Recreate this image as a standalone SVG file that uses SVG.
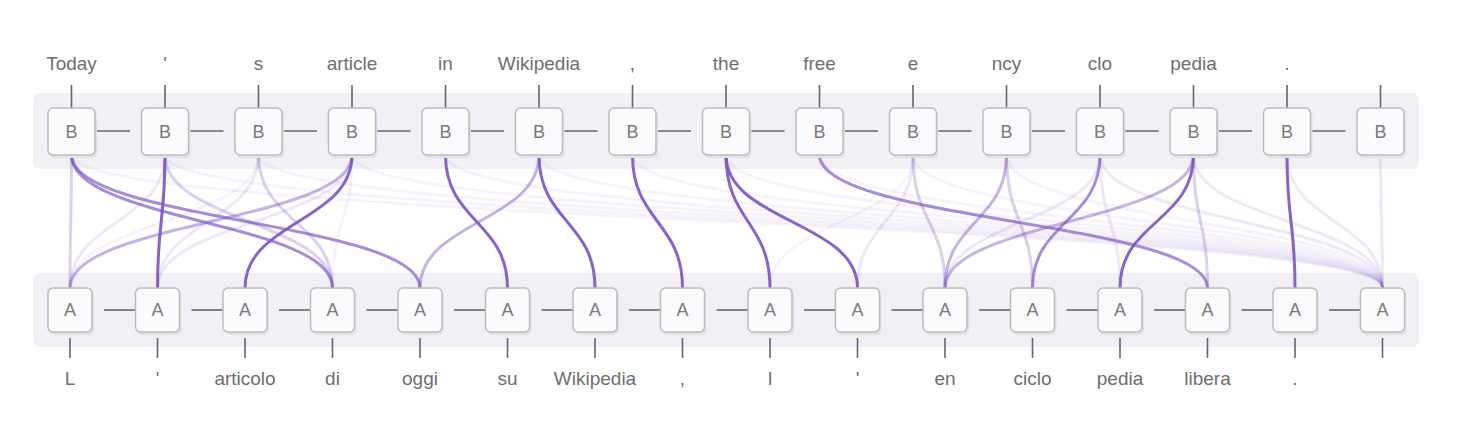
<svg xmlns="http://www.w3.org/2000/svg" width="1462" height="445" viewBox="0 0 1462 445">
<defs>
<style>
.band{fill:#f1f0f5}
.box{fill:#fbfbfd;stroke:#bcbcbc;stroke-width:1.5}
.shadow{fill:#e2e1e6}
.lt{font-family:"Liberation Sans",Arial,sans-serif;font-size:19px;fill:#6e6e6e;text-anchor:middle}
.bt{font-family:"Liberation Sans",Arial,sans-serif;font-size:18px;fill:#7a7a7a;text-anchor:middle;dominant-baseline:central}
.tick{stroke:#666;stroke-width:1.6}
.hl{stroke:#666;stroke-width:1.6}
.c{fill:none;stroke:#7e57c2;stroke-width:3;stroke-linecap:round}
.s1{stroke-opacity:0.92}
.s2{stroke-opacity:0.68}
.s3{stroke-opacity:0.45}
.s4{stroke-opacity:0.28}
.s5{stroke-opacity:0.13}
.s6{stroke-opacity:0.07}
</style>
</defs>
<rect width="1462" height="445" fill="#ffffff"/>
<rect class="band" x="33" y="93" width="1386" height="76" rx="7"/>
<rect class="band" x="33" y="273" width="1386" height="74" rx="7"/>

<g id="connectors">
<line class="hl" x1="95" y1="131" x2="130" y2="131"/>
<line class="hl" x1="188.5" y1="131" x2="223.5" y2="131"/>
<line class="hl" x1="282" y1="131" x2="317" y2="131"/>
<line class="hl" x1="375.5" y1="131" x2="410.5" y2="131"/>
<line class="hl" x1="469" y1="131" x2="504" y2="131"/>
<line class="hl" x1="562.5" y1="131" x2="597.5" y2="131"/>
<line class="hl" x1="656" y1="131" x2="691" y2="131"/>
<line class="hl" x1="749.5" y1="131" x2="784.5" y2="131"/>
<line class="hl" x1="843" y1="131" x2="878" y2="131"/>
<line class="hl" x1="936.5" y1="131" x2="971.5" y2="131"/>
<line class="hl" x1="1030" y1="131" x2="1065" y2="131"/>
<line class="hl" x1="1123.5" y1="131" x2="1158.5" y2="131"/>
<line class="hl" x1="1217" y1="131" x2="1252" y2="131"/>
<line class="hl" x1="1310.5" y1="131" x2="1345.5" y2="131"/>
<line class="hl" x1="104" y1="310" x2="135.5" y2="310"/>
<line class="hl" x1="191.5" y1="310" x2="223" y2="310"/>
<line class="hl" x1="279" y1="310" x2="310.5" y2="310"/>
<line class="hl" x1="366.5" y1="310" x2="398" y2="310"/>
<line class="hl" x1="454" y1="310" x2="485.5" y2="310"/>
<line class="hl" x1="541.5" y1="310" x2="573" y2="310"/>
<line class="hl" x1="629" y1="310" x2="660.5" y2="310"/>
<line class="hl" x1="716.5" y1="310" x2="748" y2="310"/>
<line class="hl" x1="804" y1="310" x2="835.5" y2="310"/>
<line class="hl" x1="891.5" y1="310" x2="923" y2="310"/>
<line class="hl" x1="979" y1="310" x2="1010.5" y2="310"/>
<line class="hl" x1="1066.5" y1="310" x2="1098" y2="310"/>
<line class="hl" x1="1154" y1="310" x2="1185.5" y2="310"/>
<line class="hl" x1="1241.5" y1="310" x2="1273" y2="310"/>
<line class="hl" x1="1329" y1="310" x2="1360.5" y2="310"/>

<path class="c s6" d="M71.5,155 C71.5,221.5 1382.5,221.5 1382.5,288"/>
<path class="c s6" d="M165,155 C165,221.5 1382.5,221.5 1382.5,288"/>
<path class="c s6" d="M258.5,155 C258.5,221.5 1382.5,221.5 1382.5,288"/>
<path class="c s6" d="M352,155 C352,221.5 1382.5,221.5 1382.5,288"/>
<path class="c s6" d="M445.5,155 C445.5,221.5 1382.5,221.5 1382.5,288"/>
<path class="c s6" d="M539,155 C539,221.5 1382.5,221.5 1382.5,288"/>
<path class="c s6" d="M632.5,155 C632.5,221.5 1382.5,221.5 1382.5,288"/>
<path class="c s6" d="M726,155 C726,221.5 1382.5,221.5 1382.5,288"/>
<path class="c s6" d="M819.5,155 C819.5,221.5 1382.5,221.5 1382.5,288"/>
<path class="c s6" d="M913,155 C913,221.5 1382.5,221.5 1382.5,288"/>
<path class="c s6" d="M1006.5,155 C1006.5,221.5 1382.5,221.5 1382.5,288"/>
<path class="c s5" d="M1100,155 C1100,221.5 1382.5,221.5 1382.5,288"/>
<path class="c s5" d="M1193.5,155 C1193.5,221.5 1382.5,221.5 1382.5,288"/>
<path class="c s5" d="M1287,155 C1287,221.5 1382.5,221.5 1382.5,288"/>
<path class="c s5" d="M1380.5,155 C1380.5,221.5 1382.5,221.5 1382.5,288"/>

<path class="c s5" d="M165,155 C165,221.5 70,221.5 70,288"/>
<path class="c s6" d="M258.5,155 C258.5,221.5 70,221.5 70,288"/>
<path class="c s5" d="M258.5,155 C258.5,221.5 157.5,221.5 157.5,288"/>
<path class="c s5" d="M352,155 C352,221.5 157.5,221.5 157.5,288"/>
<path class="c s6" d="M352,155 C352,221.5 332.5,221.5 332.5,288"/>
<path class="c s5" d="M913,155 C913,221.5 857.5,221.5 857.5,288"/>
<path class="c s6" d="M913,155 C913,221.5 770,221.5 770,288"/>
<path class="c s5" d="M1100,155 C1100,221.5 1120,221.5 1120,288"/>
<path class="c s5" d="M1100,155 C1100,221.5 945,221.5 945,288"/>

<path class="c s4" d="M71.5,155 C71.5,221.5 70,221.5 70,288"/>
<path class="c s4" d="M165,155 C165,221.5 332.5,221.5 332.5,288"/>
<path class="c s4" d="M258.5,155 C258.5,221.5 332.5,221.5 332.5,288"/>
<path class="c s3" d="M352,155 C352,221.5 70,221.5 70,288"/>
<path class="c s3" d="M539,155 C539,221.5 420,221.5 420,288"/>
<path class="c s4" d="M913,155 C913,221.5 945,221.5 945,288"/>
<path class="c s3" d="M1006.5,155 C1006.5,221.5 945,221.5 945,288"/>
<path class="c s4" d="M1006.5,155 C1006.5,221.5 1032.5,221.5 1032.5,288"/>
<path class="c s3" d="M1193.5,155 C1193.5,221.5 945,221.5 945,288"/>
<path class="c s4" d="M1193.5,155 C1193.5,221.5 1207.5,221.5 1207.5,288"/>
<path class="c s2" d="M71.5,155 C71.5,221.5 332.5,221.5 332.5,288"/>
<path class="c s2" d="M71.5,155 C71.5,221.5 420,221.5 420,288"/>
<path class="c s2" d="M819.5,155 C819.5,221.5 1207.5,221.5 1207.5,288"/>
<path class="c s2" d="M1100,155 C1100,221.5 1032.5,221.5 1032.5,288"/>

<path class="c s1" d="M165,155 C165,221.5 157.5,221.5 157.5,288"/>
<path class="c s1" d="M352,155 C352,221.5 245,221.5 245,288"/>
<path class="c s1" d="M445.5,155 C445.5,221.5 507.5,221.5 507.5,288"/>
<path class="c s1" d="M539,155 C539,221.5 595,221.5 595,288"/>
<path class="c s1" d="M632.5,155 C632.5,221.5 682.5,221.5 682.5,288"/>
<path class="c s1" d="M726,155 C726,221.5 770,221.5 770,288"/>
<path class="c s1" d="M726,155 C726,221.5 857.5,221.5 857.5,288"/>
<path class="c s1" d="M1193.5,155 C1193.5,221.5 1120,221.5 1120,288"/>
<path class="c s1" d="M1287,155 C1287,221.5 1295,221.5 1295,288"/>
</g>

<g id="B0"><line class="tick" x1="71.5" y1="85" x2="71.5" y2="108"/><text class="lt" x="71.5" y="70">Today</text><rect class="shadow" x="50" y="111" width="47" height="47" rx="5"/><rect class="box" x="48" y="108" width="47" height="47" rx="5"/><text class="bt" x="71.5" y="131.5">B</text></g>
<g id="B1"><line class="tick" x1="165" y1="85" x2="165" y2="108"/><text class="lt" x="165" y="70">'</text><rect class="shadow" x="143.5" y="111" width="47" height="47" rx="5"/><rect class="box" x="141.5" y="108" width="47" height="47" rx="5"/><text class="bt" x="165" y="131.5">B</text></g>
<g id="B2"><line class="tick" x1="258.5" y1="85" x2="258.5" y2="108"/><text class="lt" x="258.5" y="70">s</text><rect class="shadow" x="237" y="111" width="47" height="47" rx="5"/><rect class="box" x="235" y="108" width="47" height="47" rx="5"/><text class="bt" x="258.5" y="131.5">B</text></g>
<g id="B3"><line class="tick" x1="352" y1="85" x2="352" y2="108"/><text class="lt" x="352" y="70">article</text><rect class="shadow" x="330.5" y="111" width="47" height="47" rx="5"/><rect class="box" x="328.5" y="108" width="47" height="47" rx="5"/><text class="bt" x="352" y="131.5">B</text></g>
<g id="B4"><line class="tick" x1="445.5" y1="85" x2="445.5" y2="108"/><text class="lt" x="445.5" y="70">in</text><rect class="shadow" x="424" y="111" width="47" height="47" rx="5"/><rect class="box" x="422" y="108" width="47" height="47" rx="5"/><text class="bt" x="445.5" y="131.5">B</text></g>
<g id="B5"><line class="tick" x1="539" y1="85" x2="539" y2="108"/><text class="lt" x="539" y="70">Wikipedia</text><rect class="shadow" x="517.5" y="111" width="47" height="47" rx="5"/><rect class="box" x="515.5" y="108" width="47" height="47" rx="5"/><text class="bt" x="539" y="131.5">B</text></g>
<g id="B6"><line class="tick" x1="632.5" y1="85" x2="632.5" y2="108"/><text class="lt" x="632.5" y="70">,</text><rect class="shadow" x="611" y="111" width="47" height="47" rx="5"/><rect class="box" x="609" y="108" width="47" height="47" rx="5"/><text class="bt" x="632.5" y="131.5">B</text></g>
<g id="B7"><line class="tick" x1="726" y1="85" x2="726" y2="108"/><text class="lt" x="726" y="70">the</text><rect class="shadow" x="704.5" y="111" width="47" height="47" rx="5"/><rect class="box" x="702.5" y="108" width="47" height="47" rx="5"/><text class="bt" x="726" y="131.5">B</text></g>
<g id="B8"><line class="tick" x1="819.5" y1="85" x2="819.5" y2="108"/><text class="lt" x="819.5" y="70">free</text><rect class="shadow" x="798" y="111" width="47" height="47" rx="5"/><rect class="box" x="796" y="108" width="47" height="47" rx="5"/><text class="bt" x="819.5" y="131.5">B</text></g>
<g id="B9"><line class="tick" x1="913" y1="85" x2="913" y2="108"/><text class="lt" x="913" y="70">e</text><rect class="shadow" x="891.5" y="111" width="47" height="47" rx="5"/><rect class="box" x="889.5" y="108" width="47" height="47" rx="5"/><text class="bt" x="913" y="131.5">B</text></g>
<g id="B10"><line class="tick" x1="1006.5" y1="85" x2="1006.5" y2="108"/><text class="lt" x="1006.5" y="70">ncy</text><rect class="shadow" x="985" y="111" width="47" height="47" rx="5"/><rect class="box" x="983" y="108" width="47" height="47" rx="5"/><text class="bt" x="1006.5" y="131.5">B</text></g>
<g id="B11"><line class="tick" x1="1100" y1="85" x2="1100" y2="108"/><text class="lt" x="1100" y="70">clo</text><rect class="shadow" x="1078.5" y="111" width="47" height="47" rx="5"/><rect class="box" x="1076.5" y="108" width="47" height="47" rx="5"/><text class="bt" x="1100" y="131.5">B</text></g>
<g id="B12"><line class="tick" x1="1193.5" y1="85" x2="1193.5" y2="108"/><text class="lt" x="1193.5" y="70">pedia</text><rect class="shadow" x="1172" y="111" width="47" height="47" rx="5"/><rect class="box" x="1170" y="108" width="47" height="47" rx="5"/><text class="bt" x="1193.5" y="131.5">B</text></g>
<g id="B13"><line class="tick" x1="1287" y1="85" x2="1287" y2="108"/><text class="lt" x="1287" y="70">.</text><rect class="shadow" x="1265.5" y="111" width="47" height="47" rx="5"/><rect class="box" x="1263.5" y="108" width="47" height="47" rx="5"/><text class="bt" x="1287" y="131.5">B</text></g>
<g id="B14"><line class="tick" x1="1380.5" y1="85" x2="1380.5" y2="108"/><rect class="shadow" x="1359" y="111" width="47" height="47" rx="5"/><rect class="box" x="1357" y="108" width="47" height="47" rx="5"/><text class="bt" x="1380.5" y="131.5">B</text></g>

<g id="A0"><rect class="shadow" x="50" y="291" width="44" height="44" rx="5"/><rect class="box" x="48" y="288" width="44" height="44" rx="5"/><text class="bt" x="70" y="310">A</text><line class="tick" x1="70" y1="338" x2="70" y2="358"/><text class="lt" x="70" y="385">L</text></g>
<g id="A1"><rect class="shadow" x="137.5" y="291" width="44" height="44" rx="5"/><rect class="box" x="135.5" y="288" width="44" height="44" rx="5"/><text class="bt" x="157.5" y="310">A</text><line class="tick" x1="157.5" y1="338" x2="157.5" y2="358"/><text class="lt" x="157.5" y="385">'</text></g>
<g id="A2"><rect class="shadow" x="225" y="291" width="44" height="44" rx="5"/><rect class="box" x="223" y="288" width="44" height="44" rx="5"/><text class="bt" x="245" y="310">A</text><line class="tick" x1="245" y1="338" x2="245" y2="358"/><text class="lt" x="245" y="385">articolo</text></g>
<g id="A3"><rect class="shadow" x="312.5" y="291" width="44" height="44" rx="5"/><rect class="box" x="310.5" y="288" width="44" height="44" rx="5"/><text class="bt" x="332.5" y="310">A</text><line class="tick" x1="332.5" y1="338" x2="332.5" y2="358"/><text class="lt" x="332.5" y="385">di</text></g>
<g id="A4"><rect class="shadow" x="400" y="291" width="44" height="44" rx="5"/><rect class="box" x="398" y="288" width="44" height="44" rx="5"/><text class="bt" x="420" y="310">A</text><line class="tick" x1="420" y1="338" x2="420" y2="358"/><text class="lt" x="420" y="385">oggi</text></g>
<g id="A5"><rect class="shadow" x="487.5" y="291" width="44" height="44" rx="5"/><rect class="box" x="485.5" y="288" width="44" height="44" rx="5"/><text class="bt" x="507.5" y="310">A</text><line class="tick" x1="507.5" y1="338" x2="507.5" y2="358"/><text class="lt" x="507.5" y="385">su</text></g>
<g id="A6"><rect class="shadow" x="575" y="291" width="44" height="44" rx="5"/><rect class="box" x="573" y="288" width="44" height="44" rx="5"/><text class="bt" x="595" y="310">A</text><line class="tick" x1="595" y1="338" x2="595" y2="358"/><text class="lt" x="595" y="385">Wikipedia</text></g>
<g id="A7"><rect class="shadow" x="662.5" y="291" width="44" height="44" rx="5"/><rect class="box" x="660.5" y="288" width="44" height="44" rx="5"/><text class="bt" x="682.5" y="310">A</text><line class="tick" x1="682.5" y1="338" x2="682.5" y2="358"/><text class="lt" x="682.5" y="385">,</text></g>
<g id="A8"><rect class="shadow" x="750" y="291" width="44" height="44" rx="5"/><rect class="box" x="748" y="288" width="44" height="44" rx="5"/><text class="bt" x="770" y="310">A</text><line class="tick" x1="770" y1="338" x2="770" y2="358"/><text class="lt" x="770" y="385">l</text></g>
<g id="A9"><rect class="shadow" x="837.5" y="291" width="44" height="44" rx="5"/><rect class="box" x="835.5" y="288" width="44" height="44" rx="5"/><text class="bt" x="857.5" y="310">A</text><line class="tick" x1="857.5" y1="338" x2="857.5" y2="358"/><text class="lt" x="857.5" y="385">'</text></g>
<g id="A10"><rect class="shadow" x="925" y="291" width="44" height="44" rx="5"/><rect class="box" x="923" y="288" width="44" height="44" rx="5"/><text class="bt" x="945" y="310">A</text><line class="tick" x1="945" y1="338" x2="945" y2="358"/><text class="lt" x="945" y="385">en</text></g>
<g id="A11"><rect class="shadow" x="1012.5" y="291" width="44" height="44" rx="5"/><rect class="box" x="1010.5" y="288" width="44" height="44" rx="5"/><text class="bt" x="1032.5" y="310">A</text><line class="tick" x1="1032.5" y1="338" x2="1032.5" y2="358"/><text class="lt" x="1032.5" y="385">ciclo</text></g>
<g id="A12"><rect class="shadow" x="1100" y="291" width="44" height="44" rx="5"/><rect class="box" x="1098" y="288" width="44" height="44" rx="5"/><text class="bt" x="1120" y="310">A</text><line class="tick" x1="1120" y1="338" x2="1120" y2="358"/><text class="lt" x="1120" y="385">pedia</text></g>
<g id="A13"><rect class="shadow" x="1187.5" y="291" width="44" height="44" rx="5"/><rect class="box" x="1185.5" y="288" width="44" height="44" rx="5"/><text class="bt" x="1207.5" y="310">A</text><line class="tick" x1="1207.5" y1="338" x2="1207.5" y2="358"/><text class="lt" x="1207.5" y="385">libera</text></g>
<g id="A14"><rect class="shadow" x="1275" y="291" width="44" height="44" rx="5"/><rect class="box" x="1273" y="288" width="44" height="44" rx="5"/><text class="bt" x="1295" y="310">A</text><line class="tick" x1="1295" y1="338" x2="1295" y2="358"/><text class="lt" x="1295" y="385">.</text></g>
<g id="A15"><rect class="shadow" x="1362.5" y="291" width="44" height="44" rx="5"/><rect class="box" x="1360.5" y="288" width="44" height="44" rx="5"/><text class="bt" x="1382.5" y="310">A</text><line class="tick" x1="1382.5" y1="338" x2="1382.5" y2="358"/></g>
</svg>
